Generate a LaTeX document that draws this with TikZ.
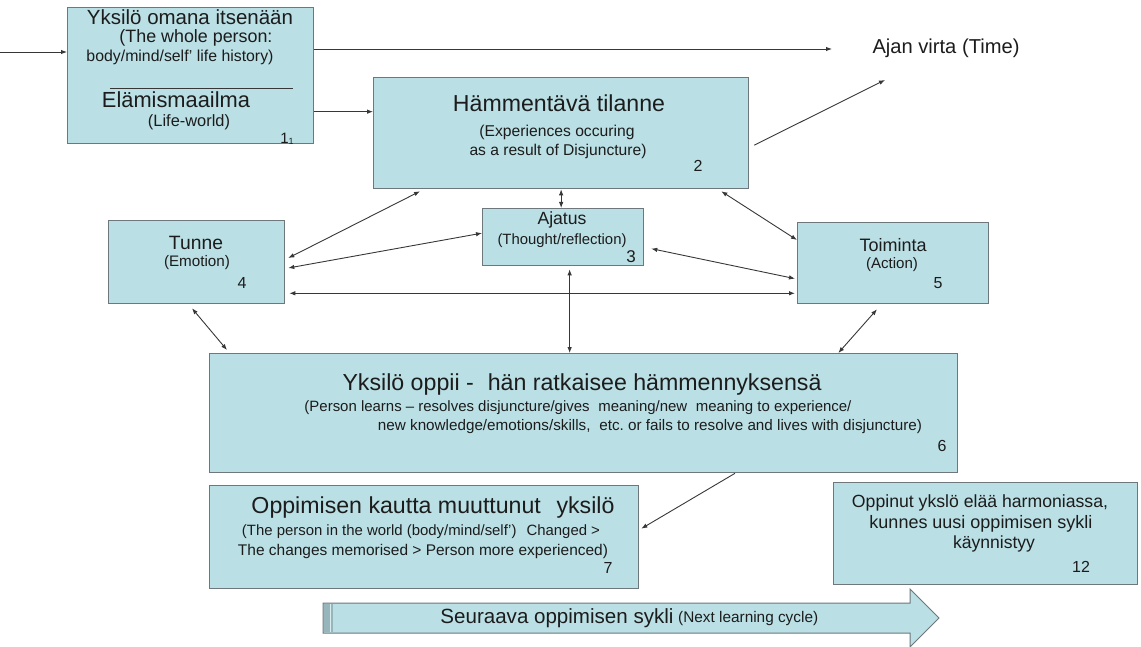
\documentclass[tikz,border=0pt]{standalone}
\usepackage{graphicx}
\usepackage{fontspec}
\setmainfont{Liberation Sans}
\usetikzlibrary{calc,arrows.meta}
\definecolor{boxfill}{RGB}{186,223,228}
\definecolor{boxline}{RGB}{110,120,124}
\definecolor{ink}{RGB}{28,28,28}
\definecolor{wire}{RGB}{55,55,55}
\definecolor{strip}{RGB}{150,182,188}
% set a line of text to a given width, keeping its proportions
\newcommand\fitw[2]{\resizebox{#1}{!}{#2}}
\newcommand\numsize[1]{\fontsize{#1}{#1}\selectfont}
\begin{document}
\begin{tikzpicture}[x=1pt,y=-1pt,
  box/.style={draw=boxline, fill=boxfill, line width=1.3pt, inner sep=0pt, anchor=north west},
  txt/.style={inner sep=0pt, text=ink},
  conn/.style={draw=wire, line width=0.9pt, -{Latex[length=6pt,width=4.5pt]}},
  both/.style={draw=wire, line width=0.9pt, {Latex[length=6pt,width=4.5pt]}-{Latex[length=6pt,width=4.5pt]}},
  bigarrow/.style={draw=boxline, fill=boxfill, line width=1pt},
]
\useasboundingbox (0,0) rectangle (1141,647);

% boxes
\node[box, minimum width=246pt, minimum height=136pt] (self) at (67,7) {};
\node[box, minimum width=375pt, minimum height=111pt] (puzzle) at (373,77) {};
\node[box, minimum width=161pt, minimum height=57pt] (thought) at (482,208) {};
\node[box, minimum width=176pt, minimum height=83pt] (emotion) at (108,220) {};
\node[box, minimum width=191pt, minimum height=81pt] (action) at (797,222) {};
\node[box, minimum width=748pt, minimum height=119pt] (learn) at (209,353) {};
\node[box, minimum width=429pt, minimum height=103pt] (changed) at (209,485) {};
\node[box, minimum width=304pt, minimum height=102pt] (harmony) at (833,482) {};

% box 1
\node[txt] (selfA) at (190,17) {\fitw{206pt}{Yksilö omana itsenään}};
\node[txt] (selfB) at (196,38) {\fitw{153pt}{(The whole person:}};
\node[txt] (selfC) at (180,57) {\fitw{187pt}{body/mind/self' life history)}};
\draw[wire, line width=0.8pt] ($(self.north west)+(43,81)$) -- ($(self.north west)+(226,81)$);
\node[txt] (selfD) at (176,100) {\fitw{148pt}{Elämismaailma}};
\node[txt] (selfE) at (189,122) {\fitw{82pt}{(Life-world)}};
\node[txt] (selfN) at (287,139) {\numsize{15}1\raisebox{-1pt}{\numsize{9}1}};

% box 2
\node[txt] (puzA) at (559,103) {\fitw{212pt}{Hämmentävä tilanne}};
\node[txt] (puzB) at (557,132) {\fitw{155pt}{(Experiences occuring}};
\node[txt] (puzC) at (558,151) {\fitw{177pt}{as a result of Disjuncture)}};
\node[txt] (puzN) at (698,166) {\numsize{16}2};

% box 3
\node[txt] (thoA) at (562,220) {\fitw{49pt}{Ajatus}};
\node[txt] (thoB) at (562,241) {\fitw{129pt}{(Thought/reflection)}};
\node[txt] (thoN) at (631,257) {\numsize{17}3};

% box 4
\node[txt] (emoA) at (196,243) {\fitw{54pt}{Tunne}};
\node[txt] (emoB) at (197,263) {\fitw{66pt}{(Emotion)}};
\node[txt] (emoN) at (242,283) {\numsize{16}4};

% box 5
\node[txt] (actA) at (893,245) {\fitw{67pt}{Toiminta}};
\node[txt] (actB) at (892,265) {\fitw{52pt}{(Action)}};
\node[txt] (actN) at (938,283) {\numsize{16}5};

% box 6
\node[txt] (lrnA) at (582,385) {\fitw{479pt}{Yksilö oppii -\hspace{0.6em}hän ratkaisee hämmennyksensä}};
\node[txt] (lrnB) at (578,408) {\fitw{547pt}{(Person learns – resolves disjuncture/gives\hspace{0.3em} meaning/new\hspace{0.3em} meaning to experience/}};
\node[txt] (lrnC) at (650,427) {\fitw{544pt}{new knowledge/emotions/skills,\hspace{0.3em} etc.\ or fails to resolve and lives with disjuncture)}};
\node[txt] (lrnN) at (942,446) {\numsize{16}6};

% box 7
\node[txt] (chgA) at (433,508) {\fitw{363pt}{Oppimisen kautta muuttunut\hspace{0.4em} yksilö}};
\node[txt] (chgB) at (421,532) {\fitw{358pt}{(The person in the world (body/mind/self')\hspace{0.4em} Changed >}};
\node[txt] (chgC) at (423,551) {\fitw{370pt}{The changes memorised > Person more experienced)}};
\node[txt] (chgN) at (608,568) {\numsize{16}7};

% box 12
\node[txt] (harA) at (980,503) {\fitw{256pt}{Oppinut ykslö elää harmoniassa,}};
\node[txt] (harB) at (981,524) {\fitw{223pt}{kunnes uusi oppimisen sykli}};
\node[txt] (harC) at (994,544) {\fitw{82pt}{käynnistyy}};
\node[txt] (harN) at (1081,567) {\numsize{16}12};

% time label
\node[txt] (time) at (946,48) {\fitw{147pt}{Ajan virta (Time)}};

% next learning cycle arrow
\draw[bigarrow] (323,603) -- (910,603) -- (910,589) -- (939,618) -- (910,647) -- (910,633) -- (323,633) -- cycle;
\fill[strip] (324,604) rectangle (333,632);
\draw[boxfill!60!white, line width=0.8pt] (330,604) -- (330,632);
\node[txt] (cycle) at (557,618) {\fitw{233pt}{Seuraava oppimisen sykli}};
\node[txt, anchor=west] (cycleEn) at (678,619) {\fitw{140pt}{(Next learning cycle)}};

% connectors
\coordinate (src) at (0,52);
\draw[conn] (src) -- (src -| self.west);
\coordinate (timeEnd) at (832,49);
\draw[conn] (timeEnd -| self.east) -- (timeEnd);
\coordinate (selfOut) at ($(self.east)+(0,36)$);
\draw[conn] (selfOut) -- (selfOut -| puzzle.west);
\coordinate (timeUp) at (885,80);
\draw[conn] ($(puzzle.east)+(5,12)$) -- (timeUp);

\draw[both] (puzzle.south) -- (puzzle.south |- thought.north);
\draw[both] ($(puzzle.south west)+(47,2)$) -- ($(emotion.north east)+(3,38)$);
\draw[both] ($(emotion.north east)+(3,48)$) -- ($(thought.west)+(0,-4)$);
\coordinate (emoMid) at ($(emotion.south east)+(4,-11)$);
\draw[both] (emoMid) -- ($(emoMid -| action.west)+(-2,0)$);
\draw[both] ($(thought.east)+(7,11.5)$) -- ($(action.west)+(-2,15.5)$);
\draw[both] ($(puzzle.south east)+(-28,2)$) -- ($(action.north west)+(0,18)$);
\coordinate (thoLow) at ($(thought.south)+(6.5,3)$);
\draw[both] (thoLow) -- (thoLow |- learn.north);
\draw[both] ($(emotion.south west)+(84,4)$) -- ($(learn.north west)+(18,-3)$);
\draw[both] ($(action.south west)+(80,5)$) -- ($(learn.north east)+(-120,0)$);
\draw[conn] ($(learn.south west)+(526,0)$) -- ($(changed.east)+(2,-8.5)$);
\end{tikzpicture}
\end{document}
